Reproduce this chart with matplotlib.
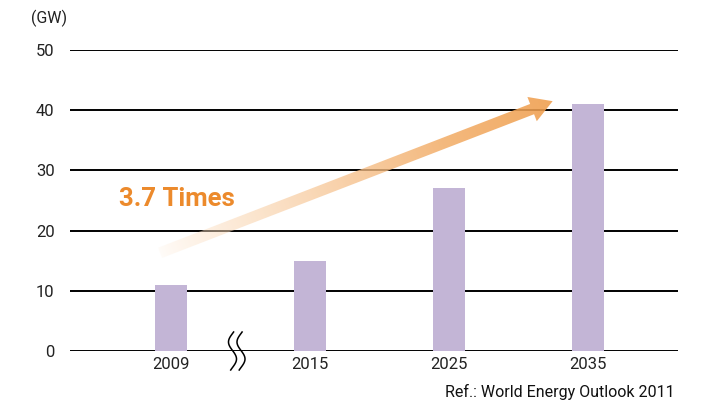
import numpy as np
import matplotlib
matplotlib.use("Agg")
import matplotlib.pyplot as plt
from matplotlib.patches import Polygon

years = ["2009", "2015", "2025", "2035"]
capacity = [11, 15, 27, 41]
y_ticks = [0, 10, 20, 30, 40, 50]
growth_label = "3.7 Times"
source_note = "Ref.: World Energy Outlook 2011"

plt.rcParams["font.family"] = ["Roboto", "DejaVu Sans"]

W, H = 713, 405
fig = plt.figure(figsize=(W / 100, H / 100), dpi=100)
ax = fig.add_axes([70 / W, 1 - 351 / H, 608 / W, 301 / H])

x = np.arange(len(years))
ax.bar(x, capacity, width=0.23, color="#C3B5D6", zorder=3)

ax.set_xlim(-0.727, 3.647)
ax.set_ylim(0, 50)
ax.set_yticks(y_ticks)
ax.set_xticks(x)
ax.set_xticklabels(years)
ax.grid(axis="y", color="black", linewidth=1.4, zorder=1)
ax.set_axisbelow(True)
for s in ax.spines.values():
    s.set_visible(False)
ax.tick_params(axis="y", length=0, pad=11, labelsize=12, labelcolor="#222222")
ax.tick_params(axis="x", length=0, pad=4, labelsize=12, labelcolor="#222222")

fig.text(49 / W, 1 - 18 / H, "(GW)", ha="center", va="center", fontsize=11.5, color="#222222")
fig.text(675 / W, 1 - 392 / H, source_note, ha="right", va="center", fontsize=11.5, color="#111111")
fig.text(119 / W, 1 - 199 / H, growth_label, ha="left", va="center", fontsize=18.5,
         fontweight="bold", color="#EC8A2C")

# growth arrow, built in pixel space so the head keeps its shape
fig.canvas.draw()
p0 = ax.transData.transform((-0.08, 16.3))
p1 = ax.transData.transform((2.745, 41.5))
d = p1 - p0
L = np.hypot(*d)
u = d / L
n = np.array([-u[1], u[0]])
shaft_w, head_w, head_l = 11, 26, 22
hb = p1 - u * head_l
pts = np.array([
    p0 + n * shaft_w / 2,
    hb + n * shaft_w / 2,
    hb + n * head_w / 2,
    p1,
    hb - n * head_w / 2,
    hb - n * shaft_w / 2,
    p0 - n * shaft_w / 2,
])
arrow = Polygon(pts / np.array([W, H]), closed=True, transform=fig.transFigure,
                facecolor="none", edgecolor="none")
fig.add_artist(arrow)

# gradient image along the arrow direction
gx, gy = np.meshgrid(np.linspace(0, W, W), np.linspace(0, H, H))
t = ((gx - p0[0]) * u[0] + (gy - p0[1]) * u[1]) / L
t = np.clip(t, 0, 1)
start = np.array([1.0, 0.95, 0.90])
end = np.array([0.94, 0.62, 0.30])
mix = t ** 0.7
rgba = np.zeros((H, W, 4))
rgba[..., :3] = start[None, None, :] * (1 - mix[..., None]) + end[None, None, :] * mix[..., None]
rgba[..., 3] = np.clip(0.2 + 0.8 * t ** 0.5, 0, 0.88)
grad_ax = fig.add_axes([0, 0, 1, 1], zorder=5)
grad_ax.set_axis_off()
img = grad_ax.imshow(rgba, origin="lower", extent=[0, 1, 0, 1], aspect="auto",
                     transform=grad_ax.transAxes)
img.set_clip_path(arrow)
grad_ax.set_xlim(0, 1)
grad_ax.set_ylim(0, 1)

# axis break mark between 2009 and 2015
yy = np.linspace(332, 370, 80)
for xc in (232.5, 241):
    xx = xc - 4 * np.sin(2 * np.pi * (yy - 333.5) / 34)
    fig.add_artist(plt.Line2D(xx / W, 1 - yy / H, color="black", linewidth=1.1,
                              transform=fig.transFigure))

fig.savefig("out.png", dpi=100)
